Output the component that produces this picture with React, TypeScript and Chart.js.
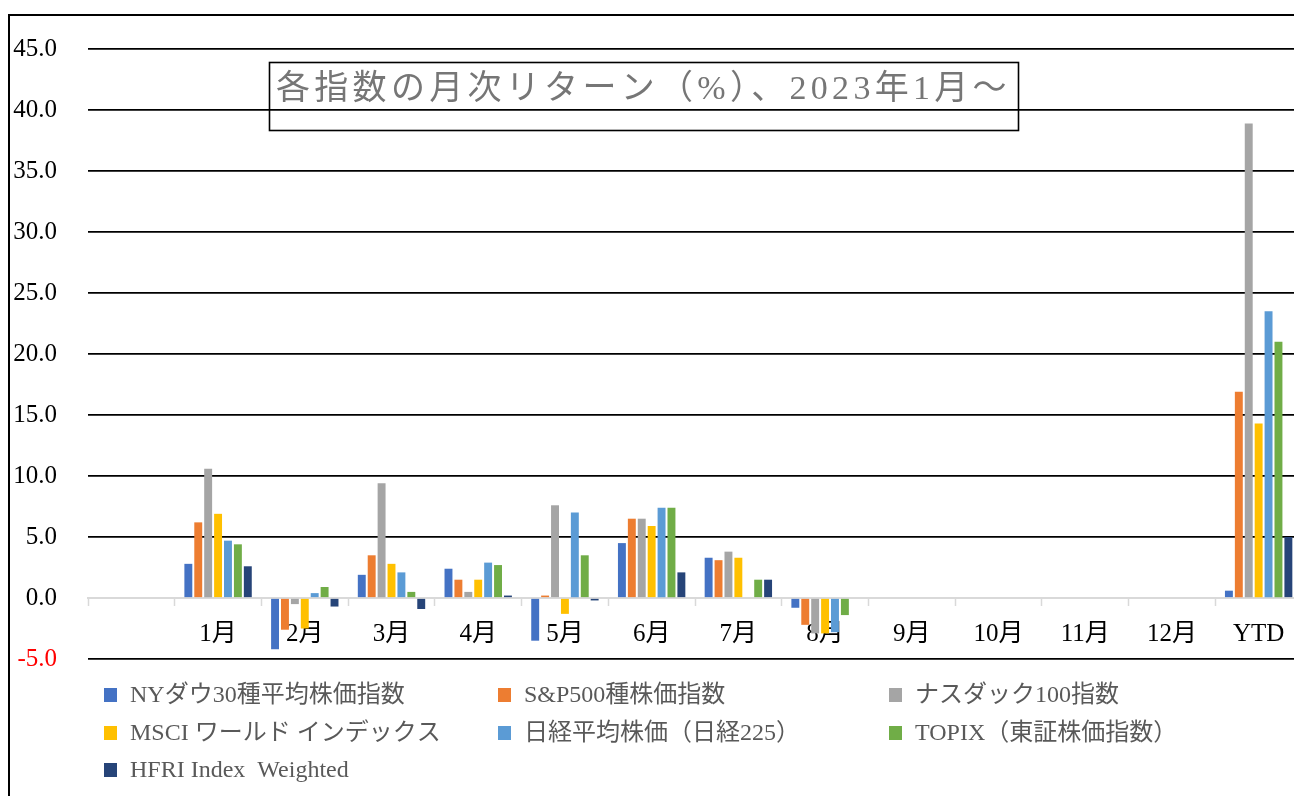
import { useEffect, useRef } from "react";
import { Chart, registerables } from "chart.js";

Chart.register(...registerables);

// Category axis: a blank leading slot, the twelve months, then year-to-date
const categories = ["", "1月", "2月", "3月", "4月", "5月", "6月", "7月", "8月", "9月", "10月", "11月", "12月", "YTD"];

const seriesNames = [
  "NYダウ30種平均株価指数",
  "S&P500種株価指数",
  "ナスダック100指数",
  "MSCI ワールド インデックス",
  "日経平均株価（日経225）",
  "TOPIX（東証株価指数）",
  "HFRI Index  Weighted",
];

const seriesColors = ["#4472C4", "#ED7D31", "#A5A5A5", "#FFC000", "#5B9BD5", "#70AD47", "#264478"];

// Monthly returns (%)
const nyDow = [null, 2.8, -4.2, 1.9, 2.4, -3.5, 4.5, 3.3, -0.8, null, null, null, null, 0.6];
const sp500 = [null, 6.2, -2.6, 3.5, 1.5, 0.2, 6.5, 3.1, -2.2, null, null, null, null, 16.9];
const nasdaq100 = [null, 10.6, -0.5, 9.4, 0.5, 7.6, 6.5, 3.8, -2.9, null, null, null, null, 38.9];
const msciWorld = [null, 6.9, -2.5, 2.8, 1.5, -1.3, 5.9, 3.3, -2.9, null, null, null, null, 14.3];
const nikkei225 = [null, 4.7, 0.4, 2.1, 2.9, 7.0, 7.4, 0, -2.8, null, null, null, null, 23.5];
const topix = [null, 4.4, 0.9, 0.5, 2.7, 3.5, 7.4, 1.5, -1.4, null, null, null, null, 21.0];
const hfri = [null, 2.6, -0.7, -0.9, 0.2, -0.2, 2.1, 1.5, null, null, null, null, null, 5.0];

const seriesValues = [nyDow, sp500, nasdaq100, msciWorld, nikkei225, topix, hfri];

const yTickMin = -5;
const yTickMax = 45;
const yTickStep = 5;

const titleText = "各指数の月次リターン（%）、2023年1月～";

const SERIF = "'Liberation Serif', 'Noto Sans CJK JP', serif";

// Boxed title inside the plot and a three-column legend under the axis
const overlayPlugin = {
  id: "overlay",
  afterDraw(chart: Chart) {
    const ctx = chart.ctx;
    ctx.save();

    ctx.strokeStyle = "#000";
    ctx.lineWidth = 1.6;
    ctx.strokeRect(259.5, 46.5, 749, 68);
    ctx.font = `34px ${SERIF}`;
    ctx.fillStyle = "#767676";
    ctx.textBaseline = "middle";
    ctx.textAlign = "left";
    (ctx as any).letterSpacing = "4.3px";
    ctx.fillText(titleText, 266, 74);
    (ctx as any).letterSpacing = "0px";

    const colX = [94, 488, 879];
    const rowY = [679, 717, 754];
    ctx.font = `24px ${SERIF}`;
    chart.data.datasets.forEach((ds, i) => {
      const x = colX[i % 3];
      const y = rowY[Math.floor(i / 3)];
      ctx.fillStyle = ds.backgroundColor as string;
      ctx.fillRect(x, y - 7, 13, 14);
      ctx.fillStyle = "#595959";
      ctx.fillText(ds.label as string, x + 26, y + 1);
    });

    ctx.restore();
  },
};

export default function App() {
  const canvasRef = useRef<HTMLCanvasElement | null>(null);

  useEffect(() => {
    const canvas = canvasRef.current;
    if (!canvas) return;

    const chart = new Chart(canvas, {
      type: "bar",
      data: {
        labels: categories,
        datasets: seriesNames.map((name, i) => ({
          label: name,
          data: seriesValues[i],
          backgroundColor: seriesColors[i],
          borderWidth: 0,
          barPercentage: 0.8,
          categoryPercentage: 0.8,
        })),
      },
      options: {
        responsive: false,
        animation: false,
        layout: { padding: { top: 33, right: 18, bottom: 137, left: 0 } },
        plugins: {
          legend: { display: false },
          title: { display: false },
          tooltip: { enabled: false },
        },
        scales: {
          x: {
            position: { y: 0 } as any,
            offset: true,
            grid: {
              display: true,
              drawOnChartArea: false,
              drawTicks: true,
              tickLength: 7,
              tickColor: "#d9d9d9",
              tickWidth: 1.5,
              offset: true,
            },
            border: { display: true, color: "#d9d9d9", width: 2 },
            ticks: {
              padding: 14,
              color: "#000",
              font: { family: SERIF, size: 25 },
              maxRotation: 0,
              autoSkip: false,
            },
          },
          y: {
            min: yTickMin,
            max: yTickMax,
            afterFit(scale: any) {
              scale.width = 78;
              scale.paddingTop = 0;
              scale.paddingBottom = 0;
            },
            grid: {
              drawTicks: false,
              lineWidth: 1.75,
              color: (c: any) => (c.tick && c.tick.value === 0 ? "rgba(0,0,0,0)" : "#000"),
            },
            border: { display: false },
            ticks: {
              stepSize: yTickStep,
              padding: 31,
              font: { family: SERIF, size: 25 },
              color: (c: any) => (c.tick && c.tick.value < 0 ? "#ff0000" : "#000"),
              callback: (v: any) => Number(v).toFixed(1),
            },
          },
        },
      },
      plugins: [overlayPlugin],
    });

    return () => chart.destroy();
  }, []);

  return (
    <div
      style={{
        position: "fixed",
        left: 8,
        top: 14,
        right: 0,
        bottom: 0,
        overflow: "hidden",
        background: "#fff",
      }}
    >
      <div
        style={{
          borderLeft: "2px solid #000",
          borderTop: "2px solid #000",
          width: 1330,
          height: 800,
        }}
      >
        <canvas ref={canvasRef} width={1310} height={780} style={{ display: "block" }} />
      </div>
    </div>
  );
}
